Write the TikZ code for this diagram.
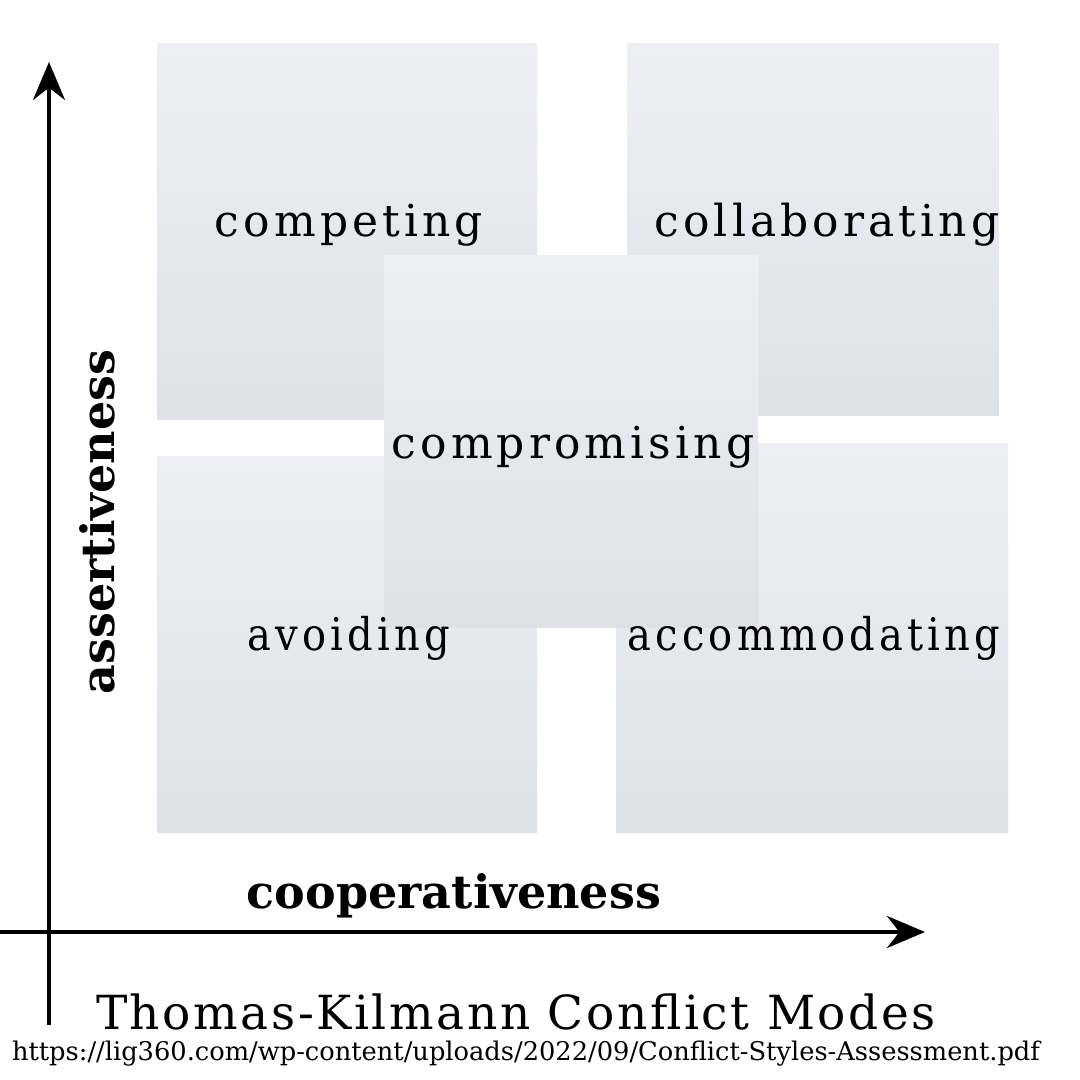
\documentclass[tikz,border=0pt]{standalone}
\usepackage{fontspec}
\setmainfont{DejaVu Serif}
\newfontfamily\modefont{DejaVu Serif}[LetterSpace=9.3]
\newfontfamily\narrowfont{DejaVu Serif}[LetterSpace=9.3,FakeStretch=0.89]
\newfontfamily\titlefont{DejaVu Serif}[LetterSpace=5.5]
\usetikzlibrary{arrows.meta}
\definecolor{boxtop}{RGB}{237,239,244}
\definecolor{boxbot}{RGB}{222,225,232}
\begin{document}
\begin{tikzpicture}[x=1pt,y=1pt,line cap=butt,line join=miter,>={Stealth[length=38pt,width=32pt]}]
	\tikzset{modebox/.style n args={2}{minimum width=#1,minimum height=#2,inner sep=0pt,
			top color=boxtop,bottom color=boxbot},
		modetext/.style={inner sep=0pt,font=\modefont\fontsize{44}{52}\selectfont},
		narrowtext/.style={inner sep=0pt,font=\narrowfont\fontsize{45}{52}\selectfont},
		axislabel/.style={font=\bfseries\fontsize{46}{54}\selectfont}}
	\useasboundingbox (0,0) rectangle (1080,1080);
	% the five modes, compromising last so it lies on top
	\node[modebox={380}{376}] (competing) at (347,848) {};
	\node[modebox={371}{372}] (collaborating) at (813,850) {};
	\node[modebox={380}{376}] (avoiding) at (347,435) {};
	\node[modebox={392}{389}] (accommodating) at (812,442) {};
	\node[modebox={374}{372}] (compromising) at (571,638) {};
	% names on top of all boxes
	\node[modetext] (competing-t) at (349,855) {competing};
	\node[modetext] (collaborating-t) at (827,855) {collaborating};
	\node[narrowtext] (avoiding-t) at (349,442) {avoiding};
	\node[narrowtext] (accommodating-t) at (814,442) {accommodating};
	\node[modetext] (compromising-t) at (573,633) {compromising};
	% axes
	\coordinate (ybot) at (49,55);
	\coordinate (ytop) at (49,1018);
	\coordinate (xleft) at (0,148);
	\coordinate (xright) at (925,148);
	\draw[line width=4pt,->] (ybot)--(ytop);
	\draw[line width=4pt,->] (xleft)--(xright);
	\node[axislabel,rotate=90] (assert) at (97,558) {assertiveness};
	\node[axislabel] (coop) at (454,184) {cooperativeness};
	\node[font=\titlefont\fontsize{47}{56}\selectfont] (title) at (516,68) {Thomas-Kilmann Conflict Modes};
	\node[font=\fontsize{25.7}{30}\selectfont] (source) at (526,26) {https://lig360.com/wp-content/uploads/2022/09/Conflict-Styles-Assessment.pdf};
\end{tikzpicture}
\end{document}
